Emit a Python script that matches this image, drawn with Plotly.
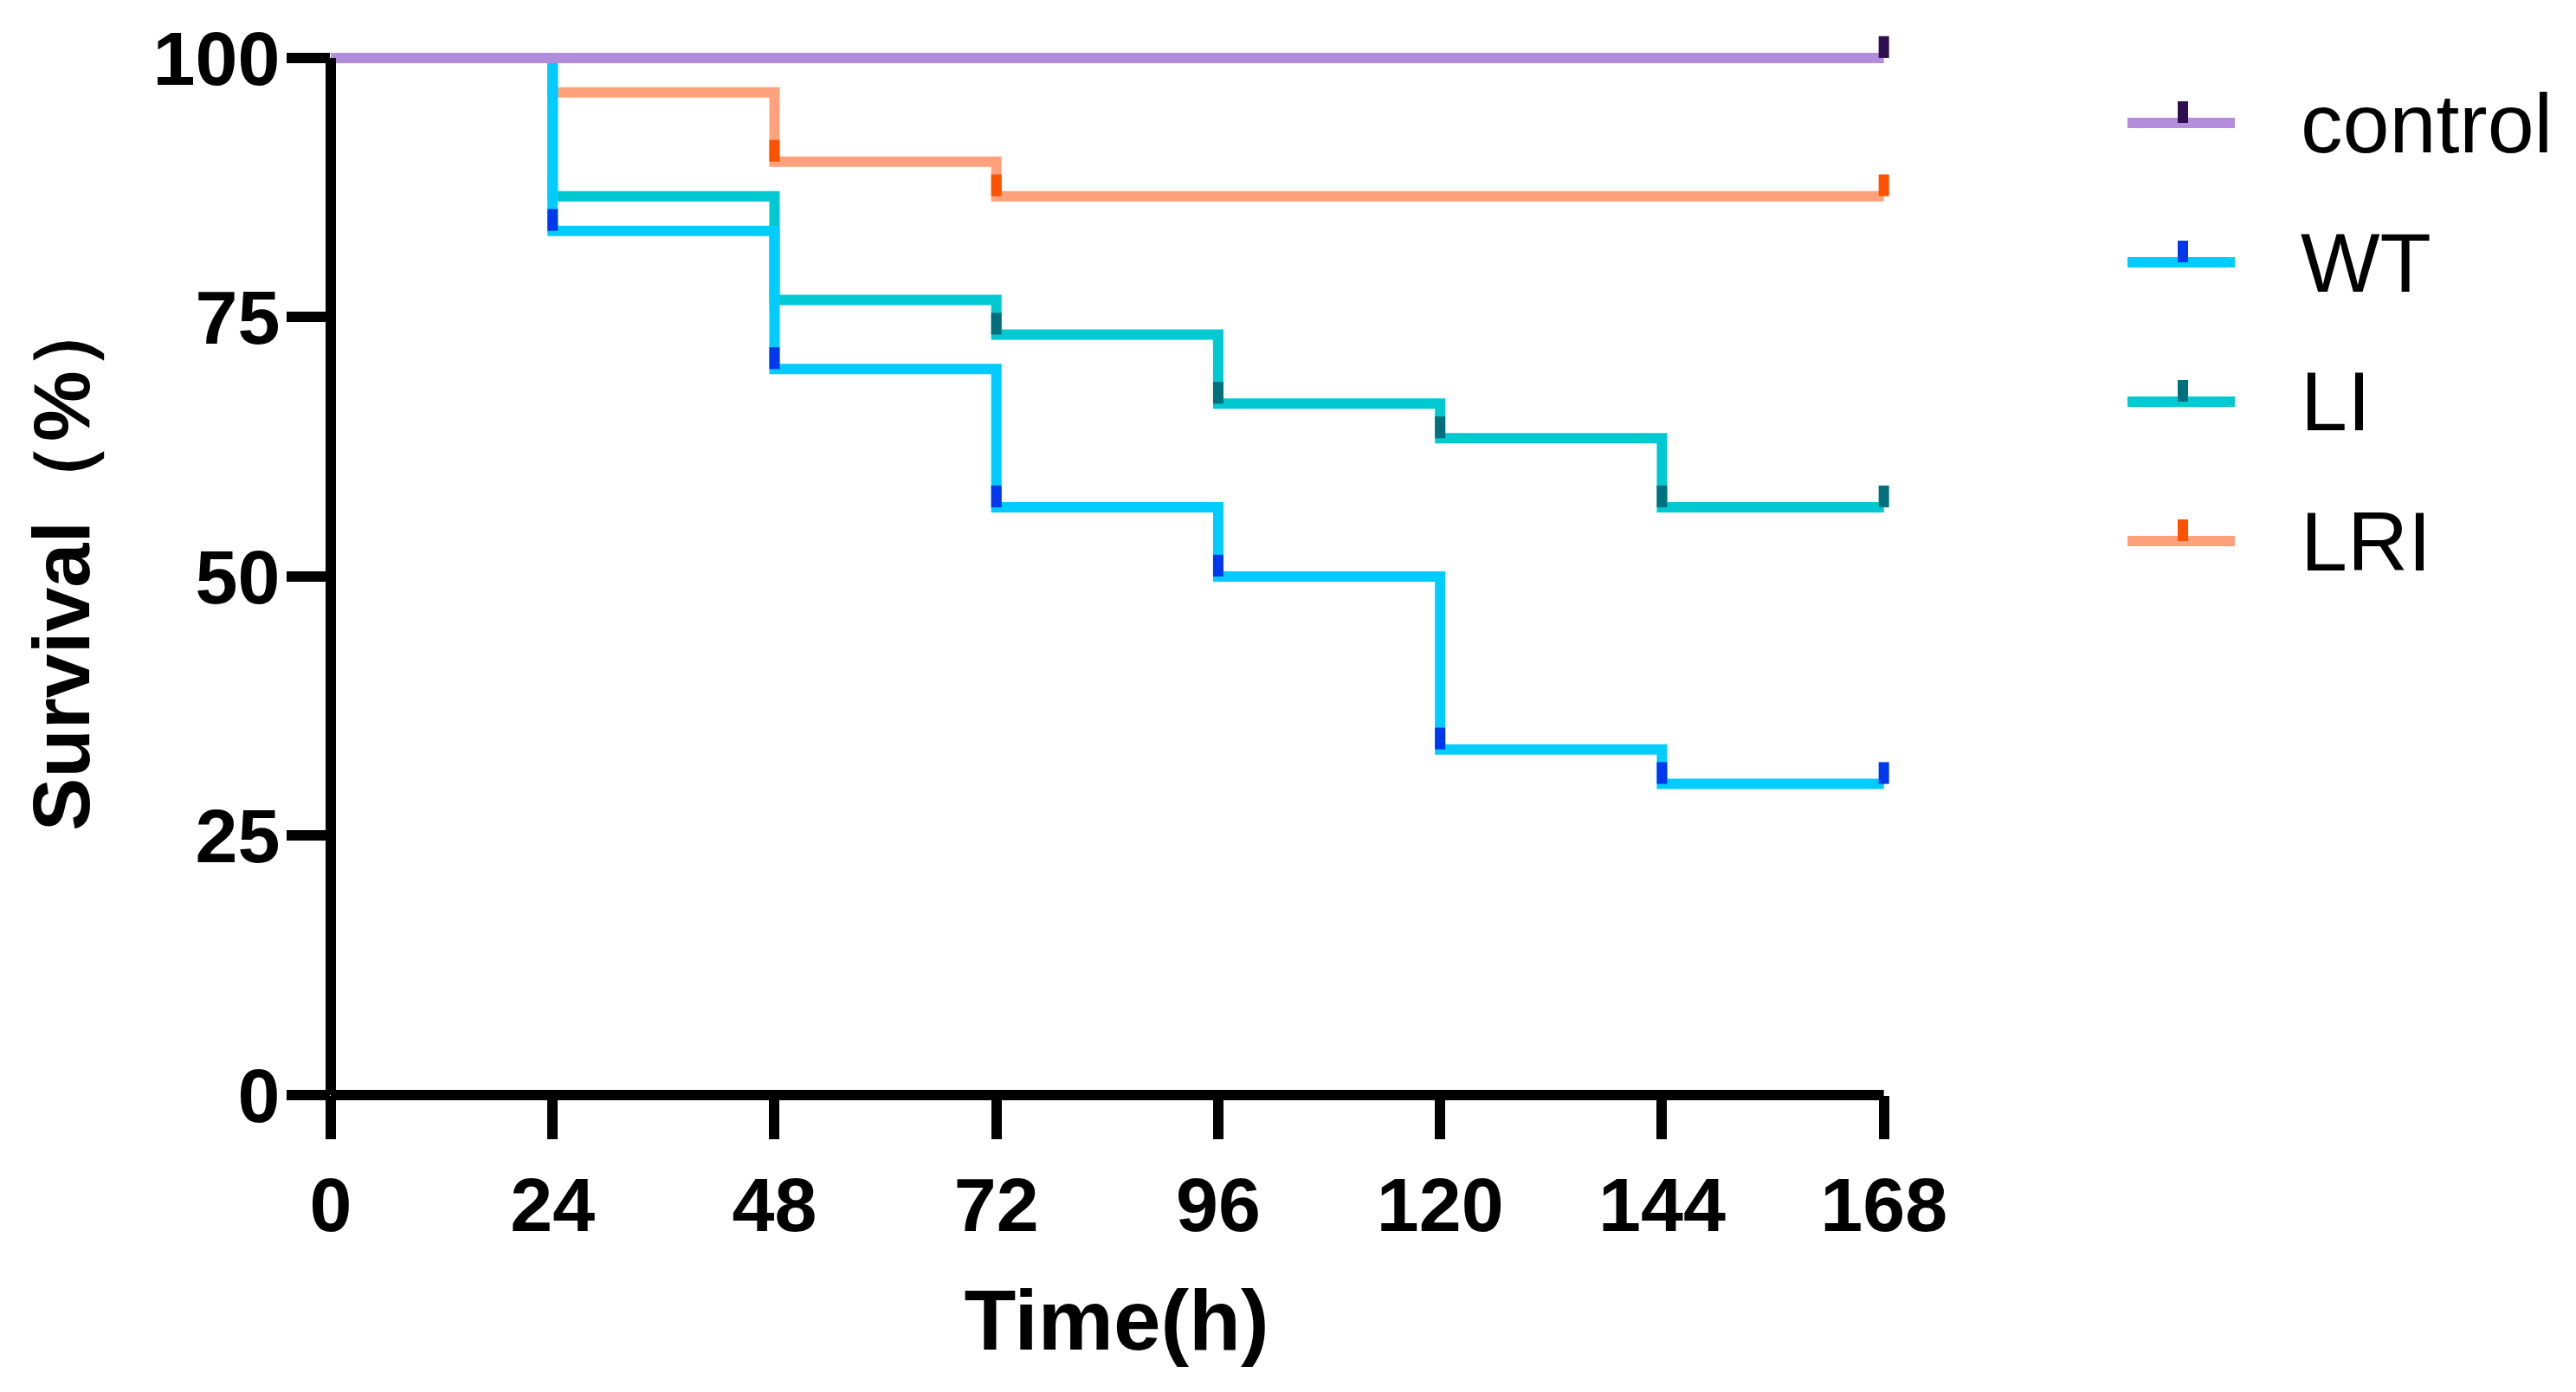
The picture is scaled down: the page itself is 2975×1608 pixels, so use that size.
import plotly.graph_objects as go

# ---------------- data ----------------
time_ticks = [0, 24, 48, 72, 96, 120, 144, 168]
survival_ticks = [0, 25, 50, 75, 100]

groups = ["control", "WT", "LI", "LRI"]

control_time = [0, 168]
control_surv = [100, 100]
control_cens_time = [168]
control_cens_surv = [100]

wt_time = [0, 24, 48, 72, 96, 120, 144, 168]
wt_surv = [100, 83.33, 70, 56.67, 50, 33.33, 30, 30]
wt_cens_time = [24, 48, 72, 96, 120, 144, 168]
wt_cens_surv = [83.33, 70, 56.67, 50, 33.33, 30, 30]

li_time = [0, 24, 48, 72, 96, 120, 144, 168]
li_surv = [100, 86.67, 76.67, 73.33, 66.67, 63.33, 56.67, 56.67]
li_cens_time = [72, 96, 120, 144, 168]
li_cens_surv = [73.33, 66.67, 63.33, 56.67, 56.67]

lri_time = [0, 24, 48, 72, 168]
lri_surv = [100, 96.67, 90, 86.67, 86.67]
lri_cens_time = [48, 72, 168]
lri_cens_surv = [90, 86.67, 86.67]

# ---------------- styles ----------------
line_colors = {"control": "#B38CDC", "WT": "#00CCFF", "LI": "#00C9D2", "LRI": "#FFA27C"}
mark_colors = {"control": "#2E1052", "WT": "#0038EE", "LI": "#00707C", "LRI": "#FF5200"}
series = {
    "control": (control_time, control_surv, control_cens_time, control_cens_surv),
    "WT": (wt_time, wt_surv, wt_cens_time, wt_cens_surv),
    "LI": (li_time, li_surv, li_cens_time, li_cens_surv),
    "LRI": (lri_time, lri_surv, lri_cens_time, lri_cens_surv),
}
draw_order = ["LRI", "LI", "WT", "control"]

X_MAX, Y_MAX = 168, 100          # axis extent (where the axis lines end)
X_PAD, Y_PAD = 2, 3              # extra room so end marks are not clipped

W, H = 2975, 1608
ML, MB = 382, 343
X_PX, Y_PX = 1794, 1198          # pixel length of 0..168 and 0..100
MT = H - MB - Y_PX - round(Y_PAD * Y_PX / Y_MAX)
MR = W - ML - X_PX - round(X_PAD * X_PX / X_MAX)
PW, PH = W - ML - MR, H - MT - MB
LW = 12          # line width
AXW = 12         # axis line width
TICK_UP = 2.1    # censor tick height (survival units)
FONT = "Arial, Liberation Sans, Helvetica, sans-serif"

fig = go.Figure()

for g in draw_order:
    t, s, ct, cs = series[g]
    fig.add_trace(go.Scatter(
        x=t, y=s, mode="lines", line=dict(color=line_colors[g], width=LW, shape="hv"),
        name=g, showlegend=False, hoverinfo="skip",
    ))
for g in draw_order:
    t, s, ct, cs = series[g]
    fig.add_trace(go.Scatter(
        x=ct, y=cs, mode="markers", marker=dict(size=1, color="rgba(0,0,0,0)"),
        error_y=dict(type="data", symmetric=False, array=[TICK_UP] * len(ct),
                     arrayminus=[0] * len(ct), width=0, thickness=12,
                     color=mark_colors[g]),
        name=g + " censored", showlegend=False, hoverinfo="skip",
    ))

# ---------------- axis lines (end exactly at 168 and 100) ----------------
shapes = [
    dict(type="line", xref="x domain", yref="y", x0=0, x1=0, y0=0, y1=Y_MAX,
         line=dict(color="black", width=AXW)),
    dict(type="line", xref="x", yref="y domain", x0=0, x1=X_MAX, y0=0, y1=0,
         line=dict(color="black", width=AXW)),
]

# ---------------- manual legend ----------------
def px_x(p):
    return (p - ML) / PW

def px_y(p):
    return (H - MB - p) / PH

annotations = []
leg_y0, leg_dy = 142, 161
leg_x0, leg_x1, leg_mark, leg_text = 2457, 2581, 2521, 2655
for i, g in enumerate(groups):
    yc = leg_y0 + i * leg_dy
    shapes.append(dict(type="line", xref="paper", yref="paper",
                       x0=px_x(leg_x0), x1=px_x(leg_x1), y0=px_y(yc), y1=px_y(yc),
                       line=dict(color=line_colors[g], width=LW)))
    shapes.append(dict(type="rect", xref="paper", yref="paper",
                       x0=px_x(leg_mark - 6), x1=px_x(leg_mark + 6),
                       y0=px_y(yc), y1=px_y(yc - 25),
                       line=dict(width=0), fillcolor=mark_colors[g]))
    annotations.append(dict(xref="paper", yref="paper", x=px_x(leg_text), y=px_y(yc),
                            xanchor="left", yanchor="middle", showarrow=False, text=g,
                            font=dict(family=FONT, size=97, color="black")))

axis_common = dict(
    showline=False,
    ticks="outside", ticklen=50, tickwidth=12, tickcolor="black",
    showgrid=False, zeroline=False,
    tickfont=dict(family=FONT, size=88, color="black", weight="bold"),
)

fig.update_layout(
    width=W, height=H,
    margin=dict(l=ML, r=MR, t=MT, b=MB),
    paper_bgcolor="white", plot_bgcolor="white",
    showlegend=False,
    xaxis=dict(range=[0, X_MAX + X_PAD], tickvals=time_ticks,
               ticktext=[str(v) for v in time_ticks],
               ticklabelstandoff=0,
               title=dict(text="Time(h)", standoff=50,
                          font=dict(family=FONT, size=98, color="black", weight="bold")),
               **axis_common),
    yaxis=dict(range=[0, Y_MAX + Y_PAD], tickvals=survival_ticks,
               ticktext=[str(v) for v in survival_ticks],
               ticklabelstandoff=-10,
               title=dict(text="Survival（%）", standoff=42,
                          font=dict(family=FONT, size=92, color="black", weight="bold")),
               **axis_common),
    shapes=shapes,
    annotations=annotations,
)

fig.write_html("out.html")
